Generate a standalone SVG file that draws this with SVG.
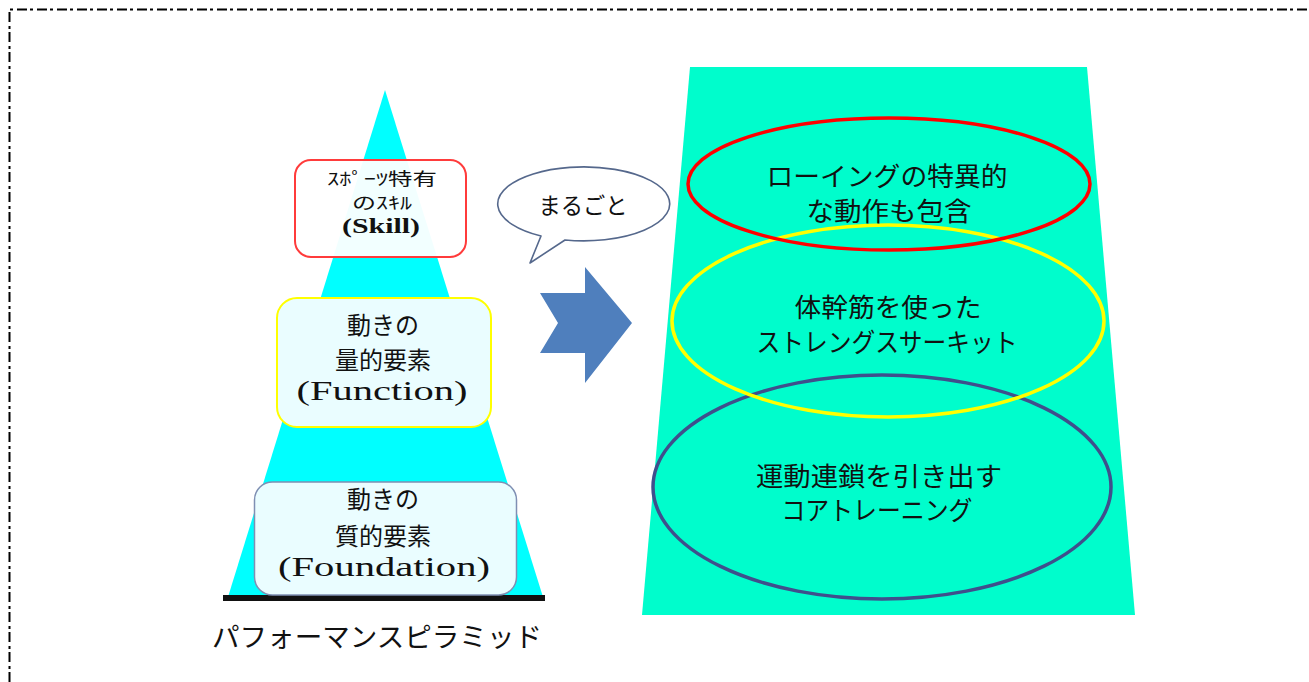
<svg xmlns="http://www.w3.org/2000/svg" width="1309" height="682" viewBox="0 0 1309 682">
<style>
.jp{font-family:"Noto Sans CJK JP","Noto Sans",sans-serif;fill:#111;text-anchor:middle}
.serif{font-family:"Liberation Serif","Noto Sans CJK JP",serif;fill:#111;text-anchor:middle}
.box{stroke-width:2}
.ell{fill:none;stroke-width:3.5}
</style>
<rect x="0" y="0" width="1309" height="682" fill="#ffffff"/>
<path d="M9.5,682 V9.5 H1309" fill="none" stroke="#000" stroke-width="2" stroke-dasharray="10 3 3 4"/>

<g id="pyramid">
  <polygon points="385,90 543,597 228,597" fill="#00ffff"/>
  <rect x="223" y="595" width="322" height="6" fill="#111"/>
</g>

<g id="skill">
  <rect class="box" x="295" y="160" width="171" height="97" rx="16" fill="#ffffff" fill-opacity="0.95" stroke="#ff3b3b"/>
  <text class="jp" x="382" y="185" font-size="17" textLength="110" lengthAdjust="spacingAndGlyphs">ｽﾎﾟｰﾂ特有</text>
  <text class="jp" x="382" y="209" font-size="17" textLength="60" lengthAdjust="spacingAndGlyphs">のｽｷﾙ</text>
  <text class="serif" x="381" y="233" font-size="21" font-weight="bold" textLength="78" lengthAdjust="spacingAndGlyphs">(Skill)</text>
</g>

<g id="function">
  <rect class="box" x="277" y="298" width="214" height="129" rx="20" fill="#eafdff" stroke="#ffff00"/>
  <text class="jp" x="383" y="334" font-size="24">動きの</text>
  <text class="jp" x="383" y="369" font-size="24">量的要素</text>
  <text class="serif" x="382" y="400" font-size="28" textLength="171" lengthAdjust="spacingAndGlyphs">(Function)</text>
</g>

<g id="foundation">
  <rect x="254.5" y="482" width="262" height="113" rx="18" fill="#eafdff" stroke="#7f8fb3" stroke-width="1.5"/>
  <text class="jp" x="383" y="508" font-size="24">動きの</text>
  <text class="jp" x="383" y="545" font-size="24">質的要素</text>
  <text class="serif" x="384" y="576" font-size="28" textLength="212" lengthAdjust="spacingAndGlyphs">(Foundation)</text>
</g>

<g id="caption">
  <text class="jp" x="377" y="647" font-size="27" textLength="330" lengthAdjust="spacingAndGlyphs">パフォーマンスピラミッド</text>
</g>

<g id="bubble">
  <path d="M541,236 A86,37 0 1 1 565,240 L530,263 Z" fill="#ffffff" stroke="#55688c" stroke-width="1.6" stroke-linejoin="round"/>
  <text class="jp" x="583" y="214" font-size="23" textLength="89" lengthAdjust="spacingAndGlyphs">まるごと</text>
</g>

<g id="connectors">
  <polygon points="540,293 585,293 585,267 632,323 585,383 585,353 540,353 558,323" fill="#4f7fbd"/>
</g>

<g id="training">
  <polygon points="690,67 1087,67 1135,615 642,615" fill="#00fdcc"/>
</g>

<g id="core">
  <ellipse class="ell" cx="882" cy="487" rx="229" ry="112" stroke="#3f4f8c"/>
  <text class="jp" x="879" y="486" font-size="26" textLength="246" lengthAdjust="spacingAndGlyphs">運動連鎖を引き出す</text>
  <text class="jp" x="877" y="520" font-size="26" textLength="191" lengthAdjust="spacingAndGlyphs">コアトレーニング</text>
</g>

<g id="strength">
  <ellipse class="ell" cx="888" cy="321" rx="216" ry="96" stroke="#ffff00" stroke-width="3"/>
  <text class="jp" x="888" y="317" font-size="26" textLength="187" lengthAdjust="spacingAndGlyphs">体幹筋を使った</text>
  <text class="jp" x="887" y="352" font-size="26" textLength="261" lengthAdjust="spacingAndGlyphs">ストレングスサーキット</text>
</g>

<g id="rowing">
  <ellipse class="ell" cx="889" cy="184" rx="201" ry="66" stroke="#ff0000"/>
  <text class="jp" x="887" y="186" font-size="26" textLength="241" lengthAdjust="spacingAndGlyphs">ローイングの特異的</text>
  <text class="jp" x="889" y="221" font-size="26" textLength="165" lengthAdjust="spacingAndGlyphs">な動作も包含</text>
</g>
</svg>
